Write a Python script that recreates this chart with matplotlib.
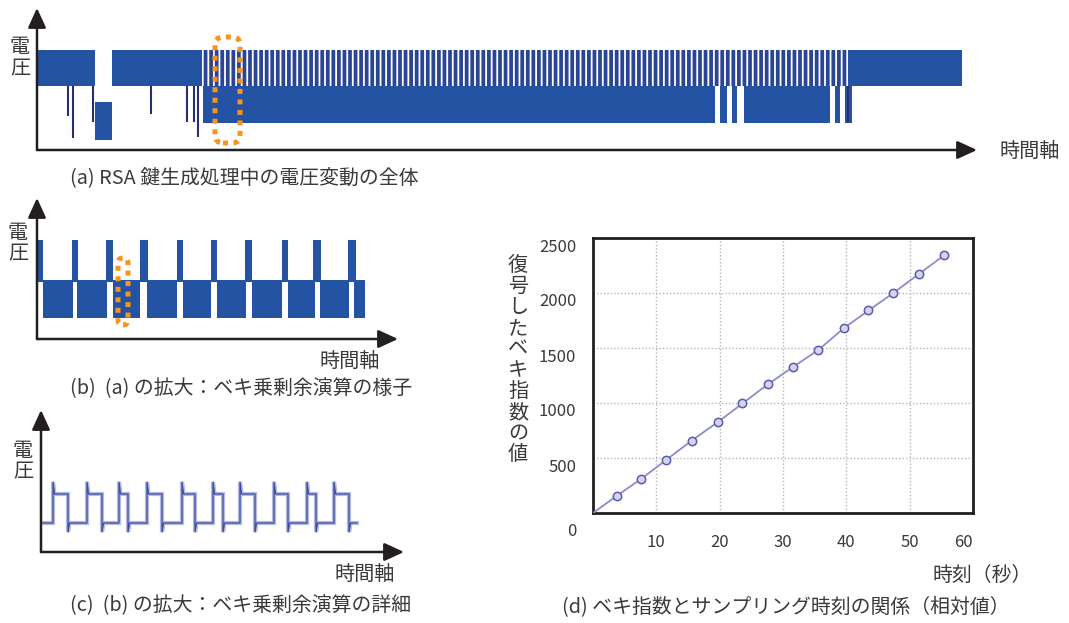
import matplotlib
matplotlib.use("Agg")
import matplotlib.pyplot as plt
from matplotlib.patches import FancyBboxPatch
from matplotlib import transforms

plt.rcParams['font.family'] = ['Noto Sans CJK JP', 'DejaVu Sans']
plt.rcParams['hatch.linewidth'] = 1.3

W, H = 1069, 623
BLUE = '#2553a4'
NAVY = '#272f70'
STRIPE = '#2a4593'
ORANGE = '#f7941d'
INK = '#231f20'
TXT = '#3a3a3a'

# (a) whole RSA key generation trace (time 0..940, voltage 0..142, arbitrary units)
a_high = [(0, 58), (75, 165), (811, 925)]
a_striped = (165, 811)
a_low = [(166, 678), (683, 690), (695, 700), (707, 793), (798, 803), (808, 815)]
a_deep = (58, 75)
a_high_lo, a_high_hi = 64, 100
a_low_lo, a_low_hi = 27, 64
a_deep_lo, a_deep_hi = 10, 48
a_spike_t = [31, 36, 56, 114, 150, 157, 161, 811]
a_spike_v = [34, 12, 28, 36, 28, 28, 13, 28]

# (b) zoom of (a): modular exponentiation (time 0..361, voltage 0..141)
b_pulse = [(1, 6), (35, 41), (69, 76), (103, 111), (140, 146),
           (174, 180), (208, 215), (245, 251), (276, 284), (311, 319)]
b_low = [(6, 36), (40, 70), (76, 103), (110, 140), (146, 174),
         (180, 209), (215, 245), (251, 278), (283, 312), (317, 328)]
b_high_lo, b_high_hi = 64, 99
b_low_lo, b_low_hi = 21, 59

# (c) zoom of (b): detail (time 0..362, voltage 0..142)
c_rise = [12, 46, 78, 106, 141, 172, 199, 233, 266, 293]
c_fall = [27, 61, 87, 121, 154, 182, 214, 247, 275, 308]
c_start, c_end = 2, 316
c_low, c_high = 29, 58
c_peak, c_dip = 70, 20

# (d) recovered exponent vs sampling time
d_time = [3.8, 7.6, 11.5, 15.6, 19.7, 23.6, 27.6, 31.6, 35.6, 39.6, 43.5, 47.4, 51.5, 55.5]
d_exp = [158, 310, 480, 659, 826, 996, 1170, 1328, 1483, 1680, 1841, 1999, 2175, 2345]
d_xticks = [0, 10, 20, 30, 40, 50, 60]
d_yticks = [0, 500, 1000, 1500, 2000, 2500]


def fx(px):
    return px / W


def fy(py):
    return 1 - py / H


def arrow_axes(x0, y0, xtip, ytip):
    # axes whose data units equal pixels, origin at the arrow corner
    ax = fig.add_axes([fx(x0), fy(y0), (xtip - x0) / W, (y0 - ytip) / H])
    ax.set_xlim(0, xtip - x0)
    ax.set_ylim(0, y0 - ytip)
    ax.axis('off')
    style = '-|>,head_length=1.2,head_width=0.55'
    for tip in [(xtip - x0, 0), (0, y0 - ytip)]:
        ax.annotate('', xy=tip, xytext=(0, 0), annotation_clip=False,
                    arrowprops=dict(arrowstyle=style, lw=1.8, color=INK,
                                    mutation_scale=10, shrinkA=0, shrinkB=0))
    return ax


def bands(ax, segs, lo, hi, color):
    ax.bar([s for s, e in segs], hi - lo, [e - s for s, e in segs], bottom=lo,
           align='edge', color=color, linewidth=0)


def orange_box(ax, x, y, w, h, r):
    ax.add_patch(FancyBboxPatch((x, y), w, h, boxstyle='round,pad=0,rounding_size=%d' % r,
                                fill=False, edgecolor=ORANGE, lw=3.6,
                                linestyle=(0, (1, 1.1)), clip_on=False, zorder=5))


fig = plt.figure(figsize=(W / 100, H / 100), dpi=100)

# ---- (a)
ax = arrow_axes(37, 150, 977, 8)
bands(ax, a_high, a_high_lo, a_high_hi, BLUE)
bands(ax, a_low, a_low_lo, a_low_hi, BLUE)
ax.bar(a_striped[0], a_high_hi - a_high_lo, a_striped[1] - a_striped[0], bottom=a_high_lo,
       align='edge', color=STRIPE, edgecolor='white', hatch='|||', linewidth=0)
bands(ax, [a_deep], a_deep_lo, a_deep_hi, BLUE)
ax.vlines(a_spike_t, a_spike_v, a_high_lo, color=NAVY, lw=1.5)
orange_box(ax, 178, 7, 25, 106, 8)

# ---- (b)
ax = arrow_axes(37, 339, 398, 198)
bands(ax, b_pulse, b_high_lo, b_high_hi, BLUE)
bands(ax, b_pulse, b_low_hi - 2, b_high_lo + 1, BLUE)
bands(ax, b_low, b_low_lo, b_low_hi, BLUE)
orange_box(ax, 81, 14, 10, 67, 5)

# ---- (c)
ax = arrow_axes(41, 552, 404, 410)
cx, cy = [c_start], [c_low]
for r, f in zip(c_rise, c_fall):
    cx += [r, r, r + 1.5, f, f, f + 1.5]
    cy += [c_low, c_peak, c_high, c_high, c_dip, c_low]
cx.append(c_end)
cy.append(c_low)
ax.plot(cx, cy, color='#b3b9df', lw=3.0, solid_joinstyle='miter')
ax.plot(cx, cy, color='#3a4c9e', lw=0.9)

# ---- (d)
ax = fig.add_axes([fx(593), fy(513), 380 / W, 275 / H])
ax.plot([0] + d_time, [0] + d_exp, color='#8c8ccc', lw=1.3, zorder=3)
ax.plot(d_time, d_exp, 'o', ms=6, mfc='#d4d4ef', mec='#5c5cac', mew=1.1, zorder=4)
ax.set_xlim(0, 60)
ax.set_ylim(0, 2500)
ax.set_xticks(d_xticks)
ax.set_xticklabels([''] + [str(t) for t in d_xticks[1:]])
ax.set_yticks(d_yticks)
ax.set_yticklabels([str(t) for t in d_yticks])
ax.tick_params(length=0, labelsize=12, labelcolor=TXT)
ax.tick_params(axis='x', pad=15)
ax.tick_params(axis='y', pad=12)
ax.grid(True, color='#b5b5b5', linestyle=(0, (1, 1.5)), lw=1)
ax.set_axisbelow(True)
for s in ax.spines.values():
    s.set_linewidth(2.0)
    s.set_color(INK)
for lab in ax.get_yticklabels():
    dy = -0.17 if lab.get_text() == '0' else -0.07
    lab.set_transform(lab.get_transform() + transforms.ScaledTranslation(0, dy, fig.dpi_scale_trans))
xl = ax.get_xticklabels()
xl[-1].set_transform(xl[-1].get_transform() + transforms.ScaledTranslation(-0.10, 0, fig.dpi_scale_trans))

# ---- texts
lab = dict(fontsize=14.5, color=TXT, ha='center', va='center')
for x, y1, y2 in [(20, 48, 69), (18, 234, 254), (23, 452, 472)]:
    fig.text(fx(x), fy(y1), '電', **lab)
    fig.text(fx(x), fy(y2), '圧', **lab)
for x, y in [(1030, 151), (350, 361), (365, 574)]:
    fig.text(fx(x), fy(y), '時間軸', **lab)

cap = dict(fontsize=14.3, color=TXT, ha='left', va='center')
fig.text(fx(70), fy(179), '(a) RSA 鍵生成処理中の電圧変動の全体', **cap)
fig.text(fx(70), fy(389), '(b)  (a) の拡大：ベキ乗剰余演算の様子', **cap)
fig.text(fx(70), fy(606), '(c)  (b) の拡大：ベキ乗剰余演算の詳細', **cap)
fig.text(fx(562), fy(608), '(d) ベキ指数とサンプリング時刻の関係（相対値）', **cap)
fig.text(fx(932), fy(575), '時刻（秒）', **cap)
fig.text(fx(518), fy(360), '\n'.join('復号したベキ指数の値'), fontsize=14.5, color=TXT,
         ha='center', va='center', linespacing=1.0)

fig.savefig('out.png', dpi=100)
